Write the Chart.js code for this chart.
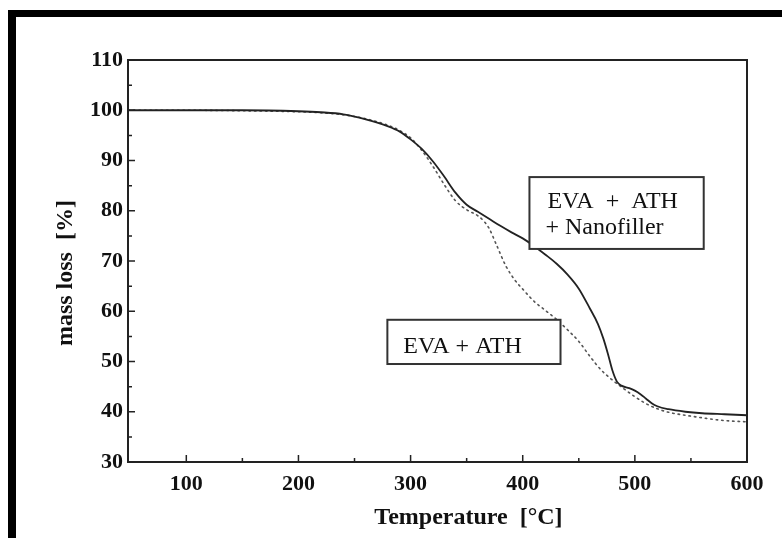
<!DOCTYPE html>
<html>
<head>
<meta charset="utf-8">
<script src="https://cdn.jsdelivr.net/npm/chart.js@4/dist/chart.umd.min.js"></script>
<style>
  html, body { margin: 0; padding: 0; background: #fff; }
  #wrap { position: relative; width: 782px; height: 538px; overflow: hidden; }
  #c { position: absolute; left: 0; top: 0; }
  #frame {
    position: absolute; left: 8px; top: 10px; right: 0; bottom: 0;
    border-top: 7px solid #000; border-left: 8px solid #000;
    pointer-events: none;
  }
</style>
</head>
<body>
<div id="wrap">
  <canvas id="c" width="782" height="538"></canvas>
  <div id="frame"></div>
</div>
<script>
// TGA curves: residual mass vs temperature
const nanoTemp = [48, 100, 150, 200, 220, 240, 260, 280, 290, 300, 310, 320, 330, 340, 350, 360, 370, 380, 390, 400, 410, 420, 430, 440, 450, 460, 467, 472, 476, 480, 484, 488, 495, 500, 505, 510, 515, 520, 530, 545, 560, 580, 600];
const nanoMass = [100, 100, 100, 99.8, 99.6, 99.2, 98.2, 96.8, 95.8, 94.2, 92.3, 89.8, 86.8, 83.6, 81.2, 79.8, 78.4, 77.0, 75.7, 74.5, 73.0, 71.3, 69.5, 67.3, 64.5, 60.5, 57.5, 54.5, 51.5, 48.2, 46.0, 45.2, 44.7, 44.2, 43.5, 42.6, 41.7, 41.1, 40.5, 40.0, 39.7, 39.5, 39.3];

const athTemp = [48, 100, 150, 200, 220, 240, 260, 280, 290, 300, 310, 320, 330, 340, 350, 360, 365, 370, 377, 385, 393, 400, 410, 420, 430, 440, 450, 460, 470, 480, 490, 500, 510, 520, 530, 545, 560, 575, 590, 600];
const athMass = [100, 100, 99.9, 99.7, 99.5, 99.1, 98.3, 97.0, 96.0, 94.5, 92.0, 88.8, 85.2, 82.0, 80.2, 79.0, 78.0, 76.5, 73.0, 69.0, 66.2, 64.4, 62.0, 60.2, 58.4, 56.3, 54.0, 51.0, 48.3, 46.3, 44.6, 43.0, 41.6, 40.6, 39.9, 39.3, 38.8, 38.35, 38.1, 38.0];

const tempTicks = [100, 200, 300, 400, 500, 600];
const massTicks = [30, 40, 50, 60, 70, 80, 90, 100, 110];

const serif = '"Liberation Serif", "DejaVu Serif", serif';
const ink = '#111';

function toPoints(xs, ys) {
  return xs.map((x, i) => ({ x: x, y: ys[i] }));
}

function midpoints(vals) {
  const out = [];
  for (let i = 0; i < vals.length - 1; i++) out.push((vals[i] + vals[i + 1]) / 2);
  return out;
}

// Plot frame, inward tick marks, axis titles and the two text boxes
const decorations = {
  id: 'decorations',
  afterDraw(chart, args, opts) {
    const ctx = chart.ctx;
    const a = chart.chartArea;
    const xs = chart.scales.x, ys = chart.scales.y;
    ctx.save();

    // frame
    ctx.strokeStyle = '#222';
    ctx.lineWidth = 2;
    ctx.strokeRect(a.left, a.top, a.right - a.left, a.bottom - a.top);

    // inward ticks
    ctx.lineWidth = 1.5;
    ctx.beginPath();
    tempTicks.forEach(v => {
      const px = xs.getPixelForValue(v);
      ctx.moveTo(px, a.bottom); ctx.lineTo(px, a.bottom - 7);
    });
    midpoints(tempTicks).forEach(v => {
      const px = xs.getPixelForValue(v);
      ctx.moveTo(px, a.bottom); ctx.lineTo(px, a.bottom - 4);
    });
    massTicks.forEach(v => {
      const py = ys.getPixelForValue(v);
      ctx.moveTo(a.left, py); ctx.lineTo(a.left + 7, py);
    });
    midpoints(massTicks).forEach(v => {
      const py = ys.getPixelForValue(v);
      ctx.moveTo(a.left, py); ctx.lineTo(a.left + 4, py);
    });
    ctx.stroke();

    // axis titles
    ctx.fillStyle = ink;
    ctx.font = 'bold 24px ' + serif;
    ctx.textAlign = 'center';
    ctx.textBaseline = 'middle';
    ctx.fillText(opts.xTitle, a.left + (a.right - a.left) * 0.55, a.bottom + 56);
    ctx.save();
    ctx.translate(a.left - 62, a.top + (a.bottom - a.top) * 0.53);
    ctx.rotate(-Math.PI / 2);
    ctx.fillText(opts.yTitle, 0, 0);
    ctx.restore();

    // labelled boxes, anchored in data coordinates
    opts.boxes.forEach(b => {
      const l = xs.getPixelForValue(b.x0), r = xs.getPixelForValue(b.x1);
      const t = ys.getPixelForValue(b.y0), btm = ys.getPixelForValue(b.y1);
      ctx.fillStyle = '#fff';
      ctx.fillRect(l, t, r - l, btm - t);
      ctx.strokeStyle = '#333';
      ctx.lineWidth = 2;
      ctx.strokeRect(l, t, r - l, btm - t);
      ctx.fillStyle = ink;
      ctx.font = '24px ' + serif;
      ctx.textAlign = 'left';
      ctx.textBaseline = 'alphabetic';
      b.lines.forEach((line, i) => {
        ctx.fillText(line, l + b.padX[i], t + b.baseY[i]);
      });
    });
    ctx.restore();
  }
};

new Chart(document.getElementById('c'), {
  type: 'line',
  data: {
    datasets: [
      {
        label: 'EVA + ATH + Nanofiller',
        data: toPoints(nanoTemp, nanoMass),
        borderColor: '#222',
        borderWidth: 1.8,
        pointRadius: 0,
        cubicInterpolationMode: 'monotone',
        fill: false
      },
      {
        label: 'EVA + ATH',
        data: toPoints(athTemp, athMass),
        borderColor: '#555',
        borderWidth: 1.6,
        borderDash: [1.5, 4],
        borderCapStyle: 'round',
        pointRadius: 0,
        cubicInterpolationMode: 'monotone',
        fill: false
      }
    ]
  },
  options: {
    responsive: false,
    animation: false,
    layout: { padding: { left: 0, top: 60, right: 35, bottom: 0 } },
    plugins: {
      legend: { display: false },
      tooltip: { enabled: false },
      decorations: {
        xTitle: 'Temperature  [°C]',
        yTitle: 'mass loss  [%]',
        boxes: [
          { lines: ['EVA  +  ATH', '+ Nanofiller'], x0: 406, y0: 86.7, x1: 561.4, y1: 72.4, padX: [18, 16], baseY: [31, 57] },
          { lines: ['EVA + ATH'], x0: 279.3, y0: 58.3, x1: 433.7, y1: 49.5, padX: [16], baseY: [33] }
        ]
      }
    },
    scales: {
      x: {
        type: 'linear',
        min: 48,
        max: 600,
        afterBuildTicks: s => { s.ticks = tempTicks.map(v => ({ value: v })); },
        afterFit: s => { s.height = 76; },
        grid: { display: false, drawTicks: false },
        border: { display: false },
        ticks: { color: ink, padding: 9, font: { family: serif, size: 22, weight: 'bold' }, maxRotation: 0 }
      },
      y: {
        type: 'linear',
        min: 30,
        max: 110,
        afterBuildTicks: s => { s.ticks = massTicks.map(v => ({ value: v })); },
        afterFit: s => { s.width = 128; },
        grid: { display: false, drawTicks: false },
        border: { display: false },
        ticks: { color: ink, padding: 5, font: { family: serif, size: 22, weight: 'bold' } }
      }
    }
  },
  plugins: [decorations]
});
</script>
</body>
</html>
